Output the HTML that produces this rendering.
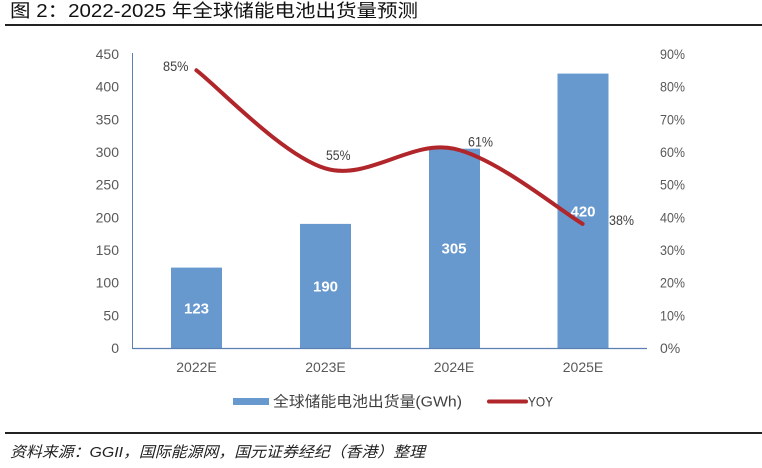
<!DOCTYPE html>
<html><head><meta charset="utf-8"><style>
html,body{margin:0;padding:0;background:#fff;}
svg{display:block;}
text{font-family:"Liberation Sans","Noto Sans CJK SC",sans-serif;}
</style></head><body>
<svg width="762" height="468" viewBox="0 0 762 468" xmlns="http://www.w3.org/2000/svg">
<rect width="762" height="468" fill="#fff"/>
<!-- title -->
<text x="10" y="17" font-size="18" fill="#111" textLength="408" lengthAdjust="spacingAndGlyphs">图 2：2022-2025 年全球储能电池出货量预测</text>
<line x1="5" y1="25" x2="762" y2="25" stroke="#222" stroke-width="2"/>

<!-- bars -->
<g fill="#6798CE">
<rect x="171" y="267.6" width="51" height="80.4"/>
<rect x="300" y="223.9" width="51" height="124.1"/>
<rect x="429" y="148.7" width="51" height="199.3"/>
<rect x="557.5" y="73.6" width="51" height="274.4"/>
</g>
<!-- axes -->
<line x1="132.5" y1="53" x2="132.5" y2="348.5" stroke="#5B7FB5" stroke-width="1"/>
<line x1="132" y1="348.5" x2="647" y2="348.5" stroke="#5B7FB5" stroke-width="1.2"/>

<!-- left ticks -->
<g font-size="14" fill="#595959" text-anchor="end">
<text x="119" y="353">0</text>
<text x="119" y="320.3">50</text>
<text x="119" y="287.7">100</text>
<text x="119" y="255">150</text>
<text x="119" y="222.3">200</text>
<text x="119" y="189.7">250</text>
<text x="119" y="157">300</text>
<text x="119" y="124.3">350</text>
<text x="119" y="91.7">400</text>
<text x="119" y="59">450</text>
</g>
<!-- right ticks -->
<g font-size="14" fill="#595959">
<text x="660" y="353">0%</text>
<text x="660" y="320.3" textLength="25" lengthAdjust="spacingAndGlyphs">10%</text>
<text x="660" y="287.7" textLength="25" lengthAdjust="spacingAndGlyphs">20%</text>
<text x="660" y="255" textLength="25" lengthAdjust="spacingAndGlyphs">30%</text>
<text x="660" y="222.3" textLength="25" lengthAdjust="spacingAndGlyphs">40%</text>
<text x="660" y="189.7" textLength="25" lengthAdjust="spacingAndGlyphs">50%</text>
<text x="660" y="157" textLength="25" lengthAdjust="spacingAndGlyphs">60%</text>
<text x="660" y="124.3" textLength="25" lengthAdjust="spacingAndGlyphs">70%</text>
<text x="660" y="91.7" textLength="25" lengthAdjust="spacingAndGlyphs">80%</text>
<text x="660" y="59" textLength="25" lengthAdjust="spacingAndGlyphs">90%</text>
</g>
<!-- x labels -->
<g font-size="14" fill="#595959" text-anchor="middle">
<text x="196.5" y="372">2022E</text>
<text x="325.5" y="372">2023E</text>
<text x="454" y="372">2024E</text>
<text x="583" y="372">2025E</text>
</g>

<!-- bar labels -->
<g font-size="15" font-weight="bold" fill="#fff" text-anchor="middle">
<text x="196.5" y="313.5">123</text>
<text x="325.5" y="291.5">190</text>
<text x="454" y="253.5">305</text>
<text x="583" y="216.5">420</text>
</g>

<!-- line -->
<path d="M196.4,70.3 C217.9,86.6 282.2,155.2 325.1,168.3 C368.0,181.4 411.0,139.4 453.9,148.7 C496.8,158.0 561.2,211.4 582.6,223.9" fill="none" stroke="#B0262A" stroke-width="4" stroke-linecap="round"/>

<!-- percent labels -->
<g font-size="14" fill="#404040">
<text x="163" y="71" textLength="25.5" lengthAdjust="spacingAndGlyphs">85%</text>
<text x="326" y="160" textLength="24.5" lengthAdjust="spacingAndGlyphs">55%</text>
<text x="468" y="146.5" textLength="25" lengthAdjust="spacingAndGlyphs">61%</text>
<text x="609" y="225" textLength="25" lengthAdjust="spacingAndGlyphs">38%</text>
</g>

<!-- legend -->
<rect x="233" y="398" width="36" height="7" fill="#6798CE"/>
<text x="273" y="406.5" font-size="15" fill="#404040" textLength="189" lengthAdjust="spacingAndGlyphs">全球储能电池出货量(GWh)</text>
<line x1="489" y1="401.5" x2="526" y2="401.5" stroke="#B0262A" stroke-width="4" stroke-linecap="round"/>
<text x="528" y="406.5" font-size="14" fill="#404040" textLength="25" lengthAdjust="spacingAndGlyphs">YOY</text>

<!-- footer -->
<line x1="5" y1="433" x2="762" y2="433" stroke="#222" stroke-width="2"/>
<text x="10" y="457" font-size="15" font-style="italic" fill="#222" textLength="415" lengthAdjust="spacingAndGlyphs">资料来源：GGII，国际能源网，国元证券经纪（香港）整理</text>
</svg>
</body></html>
